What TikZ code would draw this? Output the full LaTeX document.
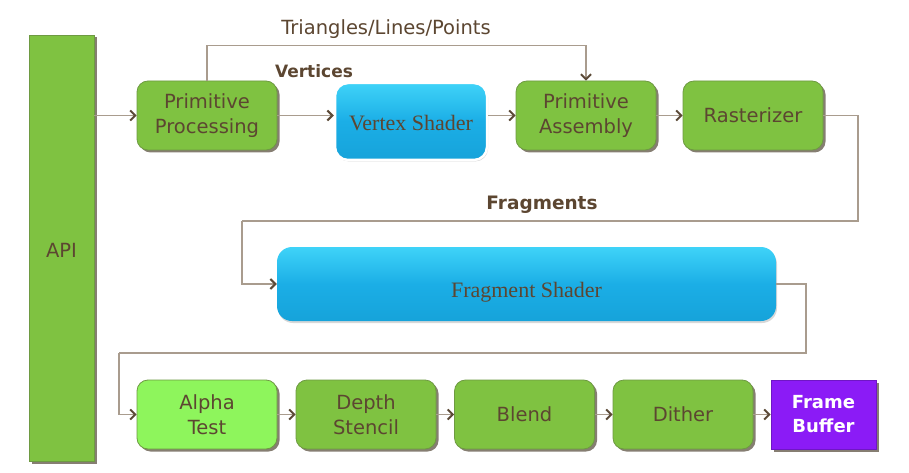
\documentclass[tikz,border=0pt]{standalone}
\usepackage{fontspec}
\setmainfont{DejaVu Sans}
\newfontfamily\serifF{Liberation Serif}
\usetikzlibrary{arrows.meta,shadows,calc}
\definecolor{gfill}{HTML}{7FC241}
\definecolor{gdraw}{HTML}{6E9A42}
\definecolor{lgfill}{HTML}{8EF55C}
\definecolor{txt}{HTML}{5C4631}
\definecolor{lineC}{HTML}{A99C8E}
\definecolor{tipC}{HTML}{5C4A38}
\definecolor{blueM}{HTML}{1BAEE6}
\definecolor{blueT}{HTML}{3FD3F8}
\definecolor{blueB}{HTML}{16A3DA}
\definecolor{purp}{HTML}{8B1BF6}
\definecolor{shad}{HTML}{5E5444}
\tikzset{
  x=1pt,y=1pt,
  gbox/.style={draw=gdraw, line width=0.8pt, fill=gfill, rounded corners=11pt, inner sep=0pt,
    minimum width=140pt, minimum height=69pt, align=center, text=txt,
    font=\fontsize{19.5}{25}\selectfont,
    drop shadow={shadow xshift=2.5pt, shadow yshift=-2.5pt, fill=shad, opacity=0.75}},
  bbox/.style={rounded corners=13pt, inner sep=0pt, align=center, text=txt,
    top color=blueT, bottom color=blueB, middle color=blueM,
    font=\serifF\fontsize{22}{26}\selectfont},
  conn/.style={draw=lineC, line width=1.5pt,
    -{Straight Barb[length=5pt,width=10pt,line width=2pt,color=tipC]}},
  plain/.style={draw=lineC, line width=1.5pt},
  lbl/.style={text=txt, inner sep=0pt}
}
\begin{document}
\begin{tikzpicture}
\useasboundingbox (0,0) rectangle (909,-473);
\fill[white] (0,0) rectangle (909,-473);

% API
\node[gbox, rounded corners=0pt, minimum width=65pt, minimum height=426pt,
  text height=19pt, text depth=0pt] (API) at (61.5,-248) {API};

% top row
\node[gbox] (PP) at (207,-115.5) {Primitive\\Processing};
\node[bbox, draw=white, line width=2.5pt, minimum width=152pt, minimum height=77pt,
  text height=19pt, text depth=0pt,
  drop shadow={shadow xshift=1pt, shadow yshift=-1.5pt, fill=gray, opacity=0.35}] (VS) at (411,-121.5) {Vertex Shader};
\node[gbox] (PA) at (586,-115.5) {Primitive\\Assembly};
\node[gbox] (RA) at (753,-115.5) {Rasterizer};

% fragment shader
\node[bbox, rounded corners=15pt, minimum width=499pt, minimum height=74pt,
  text height=26pt, text depth=0pt,
  drop shadow={shadow xshift=1pt, shadow yshift=-2pt, fill=gray, opacity=0.3}] (FS) at (526.5,-284) {Fragment Shader};

% bottom row
\node[gbox, fill=lgfill] (AT) at (207,-414.5) {Alpha\\Test};
\node[gbox] (DS) at (366,-414.5) {Depth\\Stencil};
\node[gbox] (BL) at (524.5,-414.5) {Blend};
\node[gbox] (DI) at (683,-414.5) {Dither};
\node[gbox, rounded corners=0pt, fill=purp, draw=purp!80!black, minimum width=105pt, text=white,
  font=\bfseries\fontsize{18}{24}\selectfont] (FB) at (823.5,-414.5) {Frame\\Buffer};

% labels
\node[lbl, font=\fontsize{19.5}{22}\selectfont] (tl) at (386,-29) {Triangles/Lines/Points};
\node[lbl, font=\bfseries\fontsize{17}{20}\selectfont] (vl) at (314,-71) {Vertices};
\node[lbl, font=\bfseries\fontsize{18.5}{22}\selectfont] (fl) at (542,-205) {Fragments};

% waypoints
\coordinate (c1) at (858,-221);
\coordinate (c2) at (242,-221);
\coordinate (c3) at (806,-353);
\coordinate (c4) at (119,-353);

% connectors
\draw[conn] (PP.west -| API.east) -- (PP.west);
\draw[conn] (PP.east) -- (PP.east -| VS.west);
\draw[conn] (PA.west -| VS.east) -- (PA.west);
\draw[conn] (PA.east) -- (RA.west);
\draw[conn] (PP.north) -- ++(0,35) -| (PA.north);
\draw[plain] (RA.east) -| (c1) -- (c2);
\draw[conn] (c2) |- (FS.west);
\draw[plain] (FS.east) -| (c3) -- (c4);
\draw[conn] (c4) |- (AT.west);
\draw[conn] (AT.east) -- (DS.west);
\draw[conn] (DS.east) -- (BL.west);
\draw[conn] (BL.east) -- (DI.west);
\draw[conn] (DI.east) -- (FB.west);
\end{tikzpicture}
\end{document}
